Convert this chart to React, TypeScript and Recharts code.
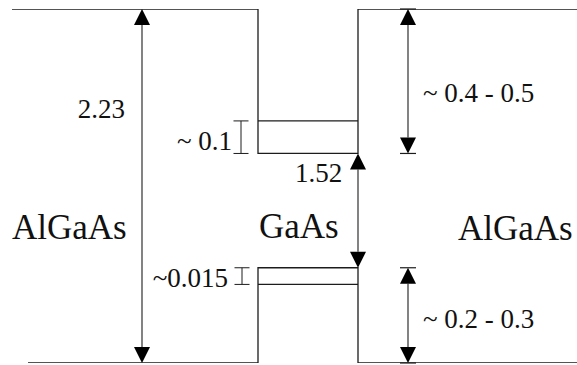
import React from "react";
import { LineChart, Line, XAxis, YAxis, ReferenceLine, ReferenceDot } from "recharts";

// position along growth direction (a.u., well walls at 0 and 10), energy in diagram units
const conductionEdge = [
  { x: -24.6, e: 2.23 },
  { x: 0, e: 2.23 },
  { x: 0, e: 1.32 },
  { x: 10, e: 1.32 },
  { x: 10, e: 2.23 },
  { x: 31.9, e: 2.23 },
];

const valenceEdge = [
  { x: -23, e: 0 },
  { x: 0, e: 0 },
  { x: 0, e: 0.6 },
  { x: 10, e: 0.6 },
  { x: 10, e: 0 },
  { x: 31.9, e: 0 },
];

const electronLevel = [
  { x: 0, e: 1.525 },
  { x: 10, e: 1.525 },
];

const holeLevel = [
  { x: 0, e: 0.495 },
  { x: 10, e: 0.495 },
];

// double arrows: x, from, to, end ticks
const arrows = [
  { x: -11.6, from: 0, to: 2.23, ticks: false },
  { x: 10, from: 0.6, to: 1.32, ticks: false },
  { x: 15, from: 1.32, to: 2.23, ticks: true },
  { x: 15, from: 0, to: 0.6, ticks: true },
];

// small I-beam brackets for confinement energies
const brackets = [
  { x: -1.7, from: 1.32, to: 1.525 },
  { x: -1.6, from: 0.495, to: 0.6 },
];

const numberLabels = [
  { text: "2.23", x: -13.3, e: 1.543, anchor: "end" },
  { text: "~ 0.1", x: -2.6, e: 1.339, anchor: "end" },
  { text: "1.52", x: 3.7, e: 1.14, anchor: "start" },
  { text: "~ 0.4 - 0.5", x: 16.5, e: 1.644, anchor: "start" },
  { text: "~0.015", x: -3.0, e: 0.479, anchor: "end" },
  { text: "~ 0.2 - 0.3", x: 16.5, e: 0.22, anchor: "start" },
];

const layerLabels = [
  { text: "AlGaAs", x: -24.6, e: 0.781 },
  { text: "GaAs", x: 0.1, e: 0.788 },
  { text: "AlGaAs", x: 20.0, e: 0.775 },
];

const INK = "#1c1c1c";
const FONT = "Liberation Serif";

const Arrow = (p: any) => {
  const x = p.x1;
  const top = Math.min(p.y1, p.y2);
  const bottom = Math.max(p.y1, p.y2);
  const h = 16;
  const w = 8;
  return (
    <g>
      <line x1={x} y1={top + h} x2={x} y2={bottom - h} stroke={INK} strokeWidth={1.1} />
      <polygon points={`${x},${top} ${x - w},${top + h} ${x + w},${top + h}`} fill="#000" />
      <polygon points={`${x},${bottom} ${x - w},${bottom - h} ${x + w},${bottom - h}`} fill="#000" />
      {p.ticks && (
        <>
          <line x1={x - 8} y1={top} x2={x + 8} y2={top} stroke={INK} strokeWidth={1.2} />
          <line x1={x - 8} y1={bottom} x2={x + 8} y2={bottom} stroke={INK} strokeWidth={1.2} />
        </>
      )}
    </g>
  );
};

const Bracket = (p: any) => {
  const x = p.x1;
  const top = Math.min(p.y1, p.y2);
  const bottom = Math.max(p.y1, p.y2);
  return (
    <g stroke={INK} strokeWidth={1}>
      <line x1={x} y1={top} x2={x} y2={bottom} />
      <line x1={x - 7.5} y1={top} x2={x + 7.5} y2={top} />
      <line x1={x - 7.5} y1={bottom} x2={x + 7.5} y2={bottom} />
    </g>
  );
};

const textShape = (text: string, anchor: string, size: number) => (p: any) => (
  <g fontFamily={FONT}>
    <text x={p.cx} y={p.cy} textAnchor={anchor} fontFamily={FONT} fontSize={size} fill="#111">
      {text}
    </text>
  </g>
);

export default function App() {
  return (
    <div style={{ position: "absolute", left: 0, top: 0, width: 577, height: 365, background: "#fff" }}>
      <LineChart width={577} height={365} margin={{ top: 9, right: 0, bottom: 2, left: 0 }}>
        <XAxis type="number" dataKey="x" domain={[-25.8, 31.9]} allowDataOverflow hide />
        <YAxis type="number" dataKey="e" domain={[0, 2.23]} allowDataOverflow hide />
        <Line data={conductionEdge} dataKey="e" type="linear" stroke={INK} strokeWidth={1.3} dot={false} activeDot={false} isAnimationActive={false} />
        <Line data={valenceEdge} dataKey="e" type="linear" stroke={INK} strokeWidth={1.3} dot={false} activeDot={false} isAnimationActive={false} />
        <Line data={electronLevel} dataKey="e" type="linear" stroke={INK} strokeWidth={1.2} dot={false} activeDot={false} isAnimationActive={false} />
        <Line data={holeLevel} dataKey="e" type="linear" stroke={INK} strokeWidth={1.2} dot={false} activeDot={false} isAnimationActive={false} />
        {arrows.map((a, i) => (
          <ReferenceLine
            key={`a${i}`}
            segment={[{ x: a.x, y: a.from }, { x: a.x, y: a.to }]}
            ifOverflow="visible"
            shape={(p: any) => <Arrow {...p} ticks={a.ticks} />}
          />
        ))}
        {brackets.map((b, i) => (
          <ReferenceLine
            key={`b${i}`}
            segment={[{ x: b.x, y: b.from }, { x: b.x, y: b.to }]}
            ifOverflow="visible"
            shape={(p: any) => <Bracket {...p} />}
          />
        ))}
        {numberLabels.map((l, i) => (
          <ReferenceDot key={`n${i}`} x={l.x} y={l.e} r={0} ifOverflow="visible" shape={textShape(l.text, l.anchor, 27)} />
        ))}
        {layerLabels.map((l, i) => (
          <ReferenceDot key={`l${i}`} x={l.x} y={l.e} r={0} ifOverflow="visible" shape={textShape(l.text, "start", 35)} />
        ))}
      </LineChart>
    </div>
  );
}
